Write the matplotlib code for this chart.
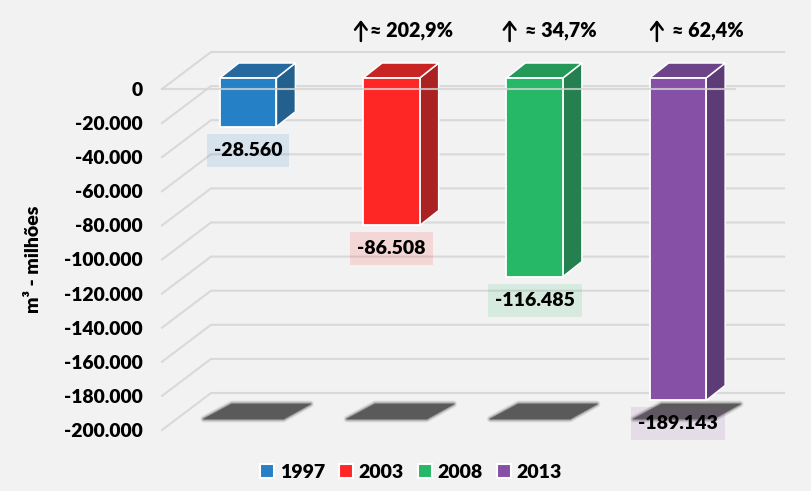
import matplotlib
matplotlib.use("Agg")
import matplotlib.pyplot as plt
from matplotlib.patches import Polygon, Rectangle
from matplotlib.transforms import Affine2D, IdentityTransform
from matplotlib.ticker import FuncFormatter

W, H = 812, 491
years = ["1997", "2003", "2008", "2013"]
values = [-28560, -86508, -116485, -189143]
changes = [None, "≈ 202,9%", "≈ 34,7%", "≈ 62,4%"]
front_colors = ["#2580c5", "#ff2626", "#26b866", "#8650a6"]
top_colors = ["#25699f", "#c92424", "#259a58", "#6d4389"]
side_colors = ["#24608d", "#ab2222", "#24804e", "#5d3b76"]
y_ticks = list(range(0, -200001, -20000))

BG = "#f2f2f2"
GRID = "#d9d9d9"
FONT = ["Lato", "DejaVu Sans"]
plt.rcParams["font.family"] = FONT
plt.rcParams["font.weight"] = "heavy"

# pixel offsets of the growth notes from the bar centre
NOTE_TEXT_DX = [0, -21.5, -10, -6]
NOTE_ARROW_DX = [0, -30.5, -25, -21]


def fmt(v, _=None):
    return f"{int(v):,}".replace(",", ".")


fig = plt.figure(figsize=(W / 100, H / 100), dpi=100, facecolor=BG)
ax = fig.add_axes([162 / W, (H - 430) / H, (735 - 162) / W, (430 - 89) / H], facecolor="none")
ax.set_xlim(-0.5, 3.5)
ax.set_ylim(-200000, 0)
for s in ax.spines.values():
    s.set_visible(False)
ax.set_xticks([])
ax.set_yticks(y_ticks)
ax.yaxis.set_major_formatter(FuncFormatter(fmt))
ax.tick_params(axis="y", length=0, pad=14, labelsize=13.9)
ax.set_ylabel("m³ - milhões", fontsize=14, fontweight="heavy", labelpad=0)
ax.yaxis.set_label_coords(42 / W, (H - 259) / H, transform=fig.transFigure)

px = IdentityTransform()
DEPTH_X, DEPTH_Y = 49, 37     # wall depth in pixels
BAR_DX, BAR_DY = 19, 15       # bar depth in pixels
SHIFT_X, SHIFT_Y = 14.5, 11   # bar placement inside the floor depth
BAR_W = 0.395


def add_px(points, **kw):
    p = Polygon(points, closed=True, transform=px, clip_on=False, **kw)
    ax.add_patch(p)
    return p


# walls
for t in y_ticks:
    x0, y0 = ax.transData.transform((-0.5, t))
    x1, _ = ax.transData.transform((3.5, t))
    ax.plot([x0, x0 + DEPTH_X, x1 + DEPTH_X], [y0, y0 + DEPTH_Y, y0 + DEPTH_Y],
            color=GRID, lw=1.5, transform=px, clip_on=False, zorder=1,
            solid_joinstyle="miter")

# bars
offset = Affine2D().translate(SHIFT_X, SHIFT_Y)
for i, (yr, v) in enumerate(zip(years, values)):
    xl, y_top = ax.transData.transform((i - BAR_W / 2, 0))
    xr, y_bot = ax.transData.transform((i + BAR_W / 2, v))
    _, y_floor = ax.transData.transform((i, -200000))
    xl += SHIFT_X; xr += SHIFT_X; y_top += SHIFT_Y; y_bot += SHIFT_Y

    # floor shadow
    shadow = [(xl - 16, y_floor + 11), (xr + 7, y_floor + 11), (xr + 34, y_floor + 26), (xl + 12, y_floor + 26)]
    for lw, a in [(5, 0.12), (3.5, 0.2), (2, 0.35), (1, 0.5), (0, 1)]:
        add_px(shadow, facecolor="#5a5a5a", edgecolor="#5a5a5a", lw=lw, alpha=a, zorder=2,
               joinstyle="round")

    add_px([(xr, y_top), (xr + BAR_DX, y_top + BAR_DY), (xr + BAR_DX, y_bot + BAR_DY), (xr, y_bot)],
           facecolor=side_colors[i], edgecolor="white", lw=1.1, zorder=3)
    add_px([(xl, y_top), (xr, y_top), (xr + BAR_DX, y_top + BAR_DY), (xl + BAR_DX, y_top + BAR_DY)],
           facecolor=top_colors[i], edgecolor="white", lw=1.1, zorder=3)
    ax.bar(i, v, width=BAR_W, color=front_colors[i], edgecolor="white", lw=1.3,
           transform=ax.transData + offset, clip_on=False, zorder=4, label=yr)

    # data label
    txt = ax.annotate(fmt(v), xy=(i, v), xytext=(SHIFT_X, SHIFT_Y - 23.5),
                      textcoords="offset pixels", ha="center", va="center",
                      fontsize=14, color="black", zorder=7, annotation_clip=False)
    cx, cy = ax.transData.transform((i, v))
    cx += SHIFT_X
    cy += SHIFT_Y - 23.5
    bb = txt.get_window_extent(fig.canvas.get_renderer())
    ax.add_patch(Rectangle((cx - bb.width / 2 - 7, cy - 16.5), bb.width + 14, 33,
                           transform=px, facecolor=front_colors[i], alpha=0.13, lw=0,
                           clip_on=False, zorder=6))

    # growth note above the bar
    if changes[i]:
        mid = (xl + xr) / 2
        ax.text(mid + NOTE_TEXT_DX[i], H - 30, changes[i], transform=px, ha="left", va="center",
                fontsize=14.2, color="black", zorder=8, clip_on=False)
        ax.annotate("", xy=(mid + NOTE_ARROW_DX[i], H - 20), xytext=(mid + NOTE_ARROW_DX[i], H - 41),
                    xycoords="figure pixels", textcoords="figure pixels",
                    arrowprops=dict(arrowstyle="->,head_width=0.42,head_length=0.55",
                                    lw=1.8, color="black", shrinkA=0, shrinkB=0), zorder=8)

# zero line sits over the bars
ax.plot([-0.5, 3.5], [0, 0], color="#d4d4d4", lw=1.5, alpha=0.8, zorder=5, clip_on=False)

handles, labels = ax.get_legend_handles_labels()
leg = ax.legend(handles, labels, ncol=4, frameon=False, fontsize=14,
                loc="center", bbox_to_anchor=(411 / W, (H - 472) / H),
                bbox_transform=fig.transFigure, handlelength=0.72, handleheight=0.72,
                handletextpad=0.3, columnspacing=0.72, borderpad=0, borderaxespad=0)
for h in leg.legend_handles:
    h.set_edgecolor("white")
    h.set_linewidth(1.5)

fig.savefig("out.png", dpi=100, facecolor=BG)
